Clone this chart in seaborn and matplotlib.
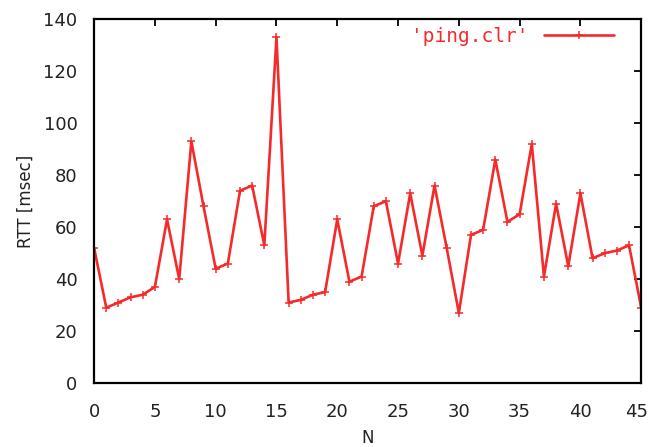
import matplotlib
matplotlib.use("Agg")
import matplotlib.pyplot as plt
import matplotlib.transforms as mtransforms
import seaborn as sns
import pandas as pd

n_values = list(range(46))
rtt_msec = [52, 29, 31, 33, 34, 37, 63, 40, 93, 68,
            44, 46, 74, 76, 53, 133, 31, 32, 34, 35,
            63, 39, 41, 68, 70, 46, 73, 49, 76, 52,
            27, 57, 59, 86, 62, 65, 92, 41, 69, 45,
            73, 48, 50, 51, 53, 29]
series_label = "'ping.clr'"
x_ticks = [0, 5, 10, 15, 20, 25, 30, 35, 40, 45]
y_ticks = [0, 20, 40, 60, 80, 100, 120, 140]

df = pd.DataFrame({"N": n_values, "RTT": rtt_msec})

sns.set_style("white")
plt.rcParams['font.family'] = ['DejaVu Sans']

fig = plt.figure(figsize=(6.49, 4.47), dpi=100)
ax = fig.add_axes([0.145, 0.143, 0.843, 0.814])

red = "#f52a2a"
sns.lineplot(data=df, x="N", y="RTT", ax=ax, color=red, linewidth=1.9,
             marker="+", markersize=6, markeredgewidth=1.1, markeredgecolor=red,
             label=series_label)

ax.set_xlim(0, 45)
ax.set_ylim(0, 140)
ax.set_xticks(x_ticks)
ax.set_yticks(y_ticks)
ax.tick_params(direction="in", length=5, width=1.3, top=True, right=True,
               labelsize=13, colors="black", labelcolor="#222222")
ax.tick_params(axis="x", pad=14)
ax.tick_params(axis="y", pad=12)
for s in ax.spines.values():
    s.set_linewidth(1.6)
    s.set_color("black")
ax.set_xlabel("N", fontsize=12, labelpad=6, color="#222222")
ax.set_ylabel("RTT [msec]", fontsize=12, labelpad=6, color="#222222")

# nudge the last x tick label so it stays inside the figure
last = ax.get_xticklabels()[-1]
last.set_transform(last.get_transform() +
                   mtransforms.ScaledTranslation(-5 / 100, 0, fig.dpi_scale_trans))

leg = ax.legend(loc="upper right", frameon=False, markerfirst=False,
                handlelength=3.6, borderaxespad=0.2, borderpad=0.2,
                bbox_to_anchor=(0.965, 1.0),
                prop={"family": "DejaVu Sans Mono", "size": 14})
for t in leg.get_texts():
    t.set_color(red)

fig.savefig("out.png", dpi=100)
